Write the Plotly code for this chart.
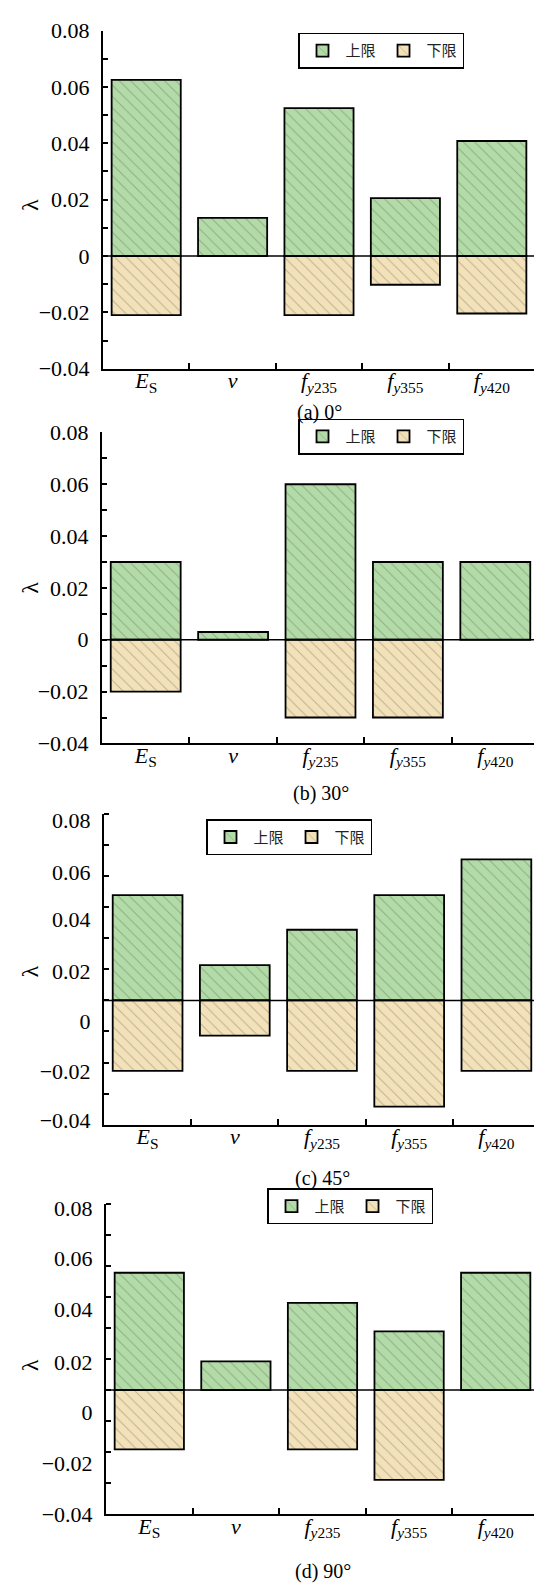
import plotly.graph_objects as go

# ---------------- data ----------------
categories = ["<i>E</i><sub>S</sub>", "<i>v</i>",
              "<i>f</i><sub><i>y</i>235</sub>",
              "<i>f</i><sub><i>y</i>355</sub>",
              "<i>f</i><sub><i>y</i>420</sub>"]
series_names = ["上限", "下限"]

upper_a = [0.0625, 0.0135, 0.0525, 0.0205, 0.0408]
lower_a = [-0.0210, None, -0.0210, -0.0102, -0.0204]

upper_b = [0.030, 0.003, 0.060, 0.030, 0.030]
lower_b = [-0.020, None, -0.030, -0.030, None]

upper_c = [0.0487, 0.0216, 0.0353, 0.0487, 0.0625]
lower_c = [-0.0192, -0.0056, -0.0192, -0.0330, -0.0192]

upper_d = [0.0533, 0.0191, 0.0417, 0.0307, 0.0533]
lower_d = [-0.0149, None, -0.0149, -0.0267, None]

# level of the horizontal zero line as drawn in each panel
baselines = [0.0, 0.0, 0.008, 0.008]

captions = ["(a) 0°", "(b) 30°", "(c) 45°", "(d) 90°"]

ytick_text = ["0.08", "0.06", "0.04", "0.02", "0", "−0.02", "−0.04"]
ytick_vals_ab = [0.08, 0.06, 0.04, 0.02, 0.0, -0.02, -0.04]
ytick_vals_c = [0.0776, 0.0575, 0.0392, 0.0191, 0.0, -0.0194, -0.0384]
ytick_vals_d = [0.0780, 0.0588, 0.0392, 0.0189, -0.0007, -0.0204, -0.0398]
minor_ab = [0.07, 0.05, 0.03, 0.01, -0.01, -0.03]
minor_cd = [0.08, 0.068, 0.056, 0.044, 0.032, 0.02, 0.008, -0.004, -0.016, -0.028]

panels = [
    (upper_a, lower_a, ytick_vals_ab, minor_ab),
    (upper_b, lower_b, ytick_vals_ab, minor_ab),
    (upper_c, lower_c, ytick_vals_c, minor_cd),
    (upper_d, lower_d, ytick_vals_d, minor_cd),
]

# ---------------- layout geometry (pixels) ----------------
W, H = 542, 1590
x_px = [(95, 527), (94, 531), (96, 532), (98, 531)]
y_px = [(10.7, 354.3), (419, 735), (806.7, 1122.3), (1202.5, 1518.3)]
legend_px = [(290, 13), (290, 405), (198, 812), (259, 1187)]
caption_y = [399, 786, 1176.7, 1576.7]
lambda_y = [188, 576.7, 966.7, 1366.7]

GREEN = "#b3dba8"
TAN = "#f3e2b9"
SERIF = "'Liberation Serif', 'Times New Roman', serif"
CJK = "'Noto Sans CJK SC', sans-serif"

fig = go.Figure()
layout = dict(
    width=W, height=H, margin=dict(l=0, r=0, t=0, b=0),
    paper_bgcolor="white", plot_bgcolor="white",
    barmode="overlay", showlegend=True,
    font=dict(family=SERIF, size=20, color="black"),
    annotations=[], shapes=[],
)

for i, (up, lo, yvals, minors) in enumerate(panels):
    n = "" if i == 0 else str(i + 1)
    xa, ya = "x" + n, "y" + n
    leg = "legend" + n
    base = baselines[i]
    for vals, color, name in ((up, GREEN, series_names[0]), (lo, TAN, series_names[1])):
        fig.add_trace(go.Bar(
            x=categories,
            y=[None if v is None else v - base for v in vals],
            base=base, width=0.8, name=name,
            xaxis=xa, yaxis=ya, legend=leg,
            marker=dict(color=color,
                        line=dict(color="black", width=1.8),
                        pattern=dict(shape="\\", fgcolor="rgba(40,40,40,0.55)",
                                     size=8, solidity=0.12)),
            hoverinfo="skip",
        ))
    x0, x1 = x_px[i]
    yt, yb = y_px[i]
    layout["xaxis" + n] = dict(
        domain=[x0 / W, x1 / W], anchor=ya, type="category",
        categoryorder="array", categoryarray=categories,
        range=[-0.5, 4.5], tickson="boundaries",
        ticks="inside", ticklen=6, tickwidth=1.5, tickcolor="black",
        showline=True, linecolor="black", linewidth=2,
        showgrid=False, zeroline=False,
        tickfont=dict(family=SERIF, size=22, color="black"),
        ticklabelstandoff=-9, fixedrange=True,
    )
    ydict = dict(
        domain=[1 - yb / H, 1 - yt / H], anchor=xa,
        range=[-0.04, 0.08], showline=True, linecolor="black", linewidth=2,
        showgrid=False, zeroline=False,
        tickmode="array", tickvals=yvals, ticktext=ytick_text,
        tickfont=dict(family=SERIF, size=22, color="black"),
        ticklabelstandoff=7, fixedrange=True,
        minor=dict(tickmode="array", tickvals=minors, ticks="inside",
                   ticklen=5, tickwidth=1.5, tickcolor="black"),
    )
    if i < 2:
        ydict.update(ticks="inside", ticklen=5, tickwidth=1.5, tickcolor="black")
    else:
        ydict.update(ticks="")
    layout["yaxis" + n] = ydict

    lx, ly = legend_px[i]
    layout[leg] = dict(
        x=lx / W, y=1 - ly / H, xanchor="left", yanchor="top",
        orientation="h", bgcolor="white", bordercolor="black", borderwidth=1.5,
        font=dict(family=CJK, size=15, color="#222"),
        itemwidth=36, tracegroupgap=0,
        itemclick=False, itemdoubleclick=False,
    )
    layout["shapes"].append(dict(
        type="line", xref=xa + " domain", yref=ya,
        x0=0, x1=1.008, y0=base, y1=base,
        line=dict(color="black", width=1.5),
    ))
    layout["annotations"].append(dict(
        text=captions[i], xref="paper", yref="paper",
        x=(x0 + x1) / 2 / W, y=1 - caption_y[i] / H,
        xanchor="center", yanchor="middle", showarrow=False,
        font=dict(family=SERIF, size=20, color="black"),
    ))
    layout["annotations"].append(dict(
        text="λ", xref="paper", yref="paper",
        x=22 / W, y=1 - lambda_y[i] / H, textangle=-90,
        xanchor="center", yanchor="middle", showarrow=False,
        font=dict(family=SERIF, size=24, color="black"),
    ))

fig.update_layout(**layout)
fig.write_html("out.html")
